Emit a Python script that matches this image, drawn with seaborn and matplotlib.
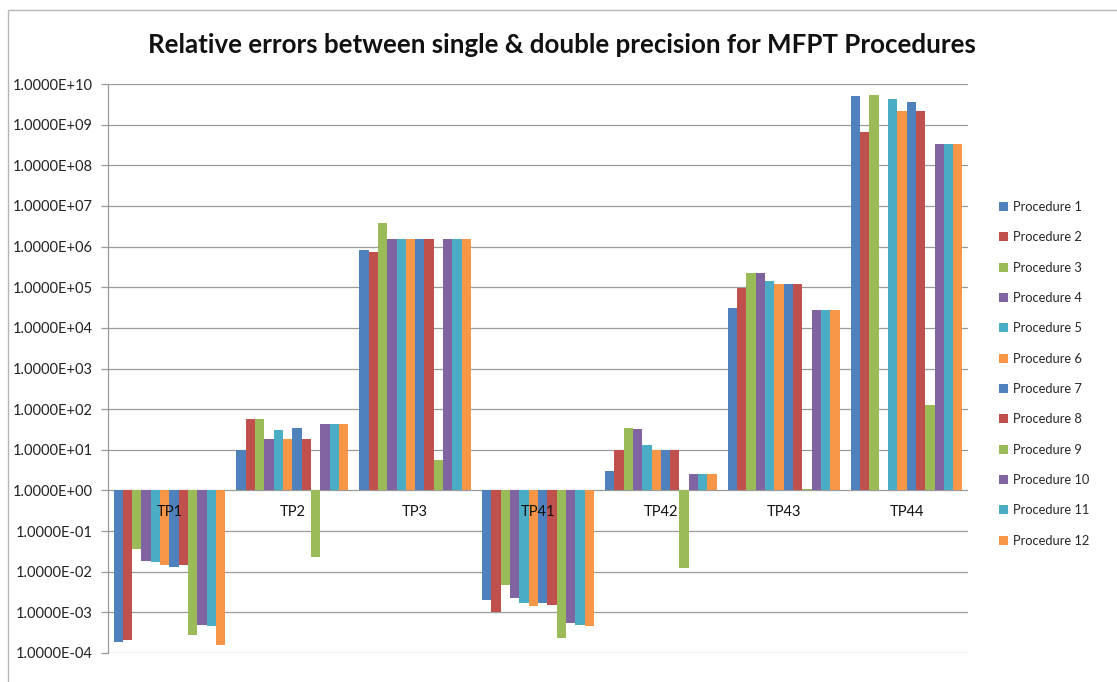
import numpy as np
import pandas as pd
import matplotlib
matplotlib.use("Agg")
import matplotlib.pyplot as plt
import seaborn as sns
from matplotlib.patches import Rectangle

# ---- data ----
groups = ["TP1", "TP2", "TP3", "TP41", "TP42", "TP43", "TP44"]
procedures = [f"Procedure {i}" for i in range(1, 13)]

tp1 = [1.9e-4, 2.1e-4, 3.7e-2, 1.8e-2, 1.7e-2, 1.5e-2, 1.3e-2, 1.5e-2, 2.8e-4, 5.0e-4, 4.7e-4, 1.55e-4]
tp2 = [10, 56, 56, 18, 30, 18, 34, 18, 2.3e-2, 42, 42, 42]
tp3 = [8.3e5, 7.2e5, 3.7e6, 1.55e6, 1.55e6, 1.55e6, 1.55e6, 1.55e6, 5.5, 1.55e6, 1.55e6, 1.55e6]
tp41 = [2.0e-3, 1.0e-3, 4.8e-3, 2.3e-3, 1.7e-3, 1.4e-3, 1.7e-3, 1.5e-3, 2.4e-4, 5.4e-4, 4.8e-4, 4.6e-4]
tp42 = [3.0, 10, 35, 32, 13, 10, 10, 10, 1.2e-2, 2.6, 2.6, 2.6]
tp43 = [3.1e4, 9.6e4, 2.3e5, 2.2e5, 1.4e5, 1.2e5, 1.2e5, 1.2e5, 1.1, 2.7e4, 2.7e4, 2.7e4]
tp44 = [5.0e9, 6.7e8, 5.3e9, np.nan, 4.2e9, 2.2e9, 3.7e9, 2.2e9, 123, 3.4e8, 3.4e8, 3.4e8]

series = [tp1, tp2, tp3, tp41, tp42, tp43, tp44]
ytick_exps = list(range(-4, 11))
title = "Relative errors between single & double precision for MFPT Procedures"

colors = ["#4F81BD", "#C0504D", "#9BBB59", "#8064A2", "#4BACC6", "#F79646"] * 2

rows = []
for g, vals in zip(groups, series):
    for p, v in zip(procedures, vals):
        rows.append({"group": g, "procedure": p, "value": v})
df = pd.DataFrame(rows)
df["logv"] = np.log10(df["value"])

sns.set_theme(style="white")
plt.rcParams["font.family"] = ["Lato", "DejaVu Sans"]

fig = plt.figure(figsize=(11.17, 6.82), dpi=100)
ax = fig.add_axes([108 / 1117, 1 - 653 / 682, (968 - 108) / 1117, (653 - 84) / 682])

sns.barplot(data=df, x="group", y="logv", hue="procedure", order=groups,
            hue_order=procedures, palette=colors, width=0.91, gap=0,
            saturation=1, errorbar=None, linewidth=0, ax=ax, zorder=2)

ax.set_ylim(-4, 10)
ax.set_yticks(ytick_exps)
ax.set_yticklabels([f"1.0000E{e:+03d}" for e in ytick_exps], fontsize=10.5, color="#222222")
ax.yaxis.grid(True, color="#9a9a9a", linewidth=0.9, zorder=0)
ax.set_axisbelow(True)
ax.tick_params(axis="y", which="major", direction="out", length=5, width=0.9,
               color="#9a9a9a", pad=6, left=True)
ax.set_xticks([])
ax.set_xlabel("")
ax.set_ylabel("")
for s in ["top", "right", "bottom"]:
    ax.spines[s].set_visible(False)
ax.spines["left"].set_color("#9a9a9a")
ax.spines["left"].set_linewidth(0.9)

for i, g in enumerate(groups):
    ax.text(i, -0.52, g, ha="center", va="center", fontsize=10.5, color="#111111", zorder=5)

handles, labels = ax.get_legend_handles_labels()
ax.legend(handles, labels, loc="upper left", bbox_to_anchor=(999 / 1117, 1 - 201 / 682),
          bbox_transform=fig.transFigure, frameon=False, fontsize=9.3,
          handlelength=0.7, handleheight=0.7, handletextpad=0.35,
          labelspacing=1.42, borderaxespad=0, borderpad=0)

fig.text(562 / 1117, 1 - 45 / 682, title, ha="center", va="center",
         fontsize=18.6, fontweight="bold", color="#111111")

fig.patches.append(Rectangle((8 / 1117, -0.1), 1.2, (682 - 10) / 682 + 0.1,
                             transform=fig.transFigure, fill=False,
                             edgecolor="#b5b5b5", linewidth=1))

fig.savefig("out.png", dpi=100)
